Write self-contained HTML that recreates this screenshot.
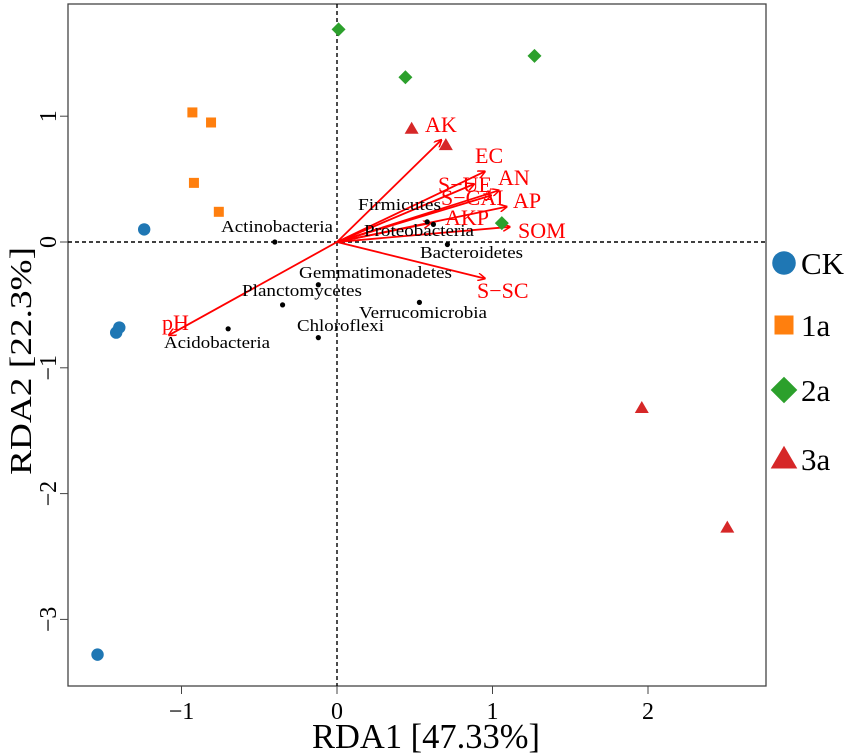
<!DOCTYPE html>
<html><head><meta charset="utf-8"><style>
body{margin:0;background:#fff}
svg{display:block;font-family:"Liberation Serif",serif}
</style></head><body>
<svg id="c" width="851" height="756" viewBox="0 0 851 756" xmlns="http://www.w3.org/2000/svg">
<defs><marker id="ah" markerWidth="8" markerHeight="8" refX="7" refY="4" orient="auto" markerUnits="userSpaceOnUse"><path d="M0,0 L8,4 L0,8" fill="none" stroke="#f00" stroke-width="1.5"/></marker></defs>
<g id="g"></g>
</svg>
<script>
const groups=['CK','1a','2a','3a'];
const colors=['#1f77b4','#ff7f0e','#2ca02c','#d62728'];
const ckX=[-1.24,-1.42,-1.40,-1.54], ckY=[0.10,-0.72,-0.68,-3.28];
const a1X=[-0.93,-0.81,-0.92,-0.76], a1Y=[1.03,0.95,0.47,0.24];
const a2X=[0.01,0.44,1.27,1.06], a2Y=[1.69,1.31,1.48,0.15];
const a3X=[0.48,0.70,1.96,2.51], a3Y=[0.90,0.77,-1.32,-2.27];
const envNames=['AK','EC','S-UE','AN','S-CAI','AP','AKP','SOM','S-SC','pH'];
const envX=[0.67,0.95,0.88,1.04,0.99,1.09,0.60,1.11,0.95,-1.08];
const envY=[0.81,0.56,0.46,0.41,0.37,0.28,0.15,0.12,-0.29,-0.74];
const sppNames=['Actinobacteria','Firmicutes','Proteobacteria','Bacteroidetes','Gemmatimonadetes','Planctomycetes','Chloroflexi','Verrucomicrobia','Acidobacteria'];
const sppX=[-0.40,0.58,0.62,0.71,-0.12,-0.35,-0.12,0.53,-0.70];
const sppY=[0.00,0.16,0.14,-0.02,-0.34,-0.50,-0.76,-0.48,-0.69];
const xTicks=[-1,0,1,2], yTicks=[1,0,-1,-2,-3];
const L=68,R=766,T=4,B=686;
const sx=v=>337+v*155.5, sy=v=>242-v*125.8;
const g=document.getElementById('g');
const NS='http://www.w3.org/2000/svg';
function mk(t,a,p){const e=document.createElementNS(NS,t);for(const k in a)e.setAttribute(k,a[k]);(p||g).appendChild(e);return e;}
let e;
e=mk('rect',{x:L,y:T,width:R-L,height:B-T,fill:'none',stroke:'#444','stroke-width':1.3});


e=mk('line',{x1:L,x2:R,y1:sy(0),y2:sy(0),stroke:'#000','stroke-dasharray':'4,3','stroke-width':1.4});


e=mk('line',{x1:sx(0),x2:sx(0),y1:T,y2:B,stroke:'#000','stroke-dasharray':'4,3','stroke-width':1.4});


xTicks.forEach(v=>{
 e=mk('line',{x1:sx(v),x2:sx(v),y1:B,y2:B+8,stroke:'#444'});
 
 
 e=mk('text',{x:sx(v),y:B+33,'text-anchor':'middle','font-size':24});
 e.textContent=v<0?'\u2212'+(-v):v;
 
 
});
yTicks.forEach(v=>{
 e=mk('line',{x1:L-8,x2:L,y1:sy(v),y2:sy(v),stroke:'#444'});
 
 
 e=mk('text',{x:L-12,y:sy(v),'text-anchor':'middle','font-size':24,transform:`rotate(-90 ${L-12} ${sy(v)})`});
 e.textContent=v<0?'\u2212'+(-v):v;
 
 
});
e=mk('text',{x:312,y:748,'font-size':35,textLength:228,lengthAdjust:'spacingAndGlyphs'});
e.textContent='RDA1  [47.33%]';


e=mk('text',{x:31,y:475,'font-size':31,textLength:228,lengthAdjust:'spacingAndGlyphs',transform:'rotate(-90 31 475)'});
e.textContent='RDA2  [22.3%]';


const envLab=[[425,132],[475,163],[438,192],[498,185],[441,205],[513,208],[445,225],[518,238],[477,298],[162,330]];
envNames.forEach((n,i)=>{
 e=mk('line',{x1:sx(0),y1:sy(0),x2:sx(envX[i]),y2:sy(envY[i]),stroke:'#f00','stroke-width':1.8,'marker-end':'url(#ah)'});
 
 
 e=mk('text',{x:envLab[i][0],y:envLab[i][1],fill:'#f00','font-size':22});
 e.textContent=n.replace('-','\u2212');
 
 
});
const sppLab=[[221,232],[358,210],[364,236],[420,258],[299,278],[242,296],[297,331],[359,318],[164,348]];
const sppW=[112,83,110,103,153,120,87,128,106];
sppNames.forEach((n,i)=>{
 e=mk('circle',{cx:sx(sppX[i]),cy:sy(sppY[i]),r:2.6,fill:'#000'});
 
 
 e=mk('text',{x:sppLab[i][0],y:sppLab[i][1],'font-size':17,textLength:sppW[i],lengthAdjust:'spacingAndGlyphs'});
 e.textContent=n;
 
 
});
function shape(k,x,y,s,c){
 if(k==0)return mk('circle',{cx:x,cy:y,r:s*0.62,fill:c});
 if(k==1)return mk('rect',{x:x-s/2,y:y-s/2,width:s,height:s,fill:c});
 if(k==2)return mk('polygon',{points:`${x},${y-s*0.7} ${x+s*0.7},${y} ${x},${y+s*0.7} ${x-s*0.7},${y}`,fill:c});
 return mk('polygon',{points:`${x},${y-s*0.7} ${x+s*0.7},${y+s*0.5} ${x-s*0.7},${y+s*0.5}`,fill:c});
}
const sets=[[ckX,ckY],[a1X,a1Y],[a2X,a2Y],[a3X,a3Y]];
sets.forEach((s,k)=>{s[0].forEach((v,i)=>{
 e=shape(k,sx(v),sy(s[1][i]),10,colors[k]);
 
 
});});
const legY=[263,325,390,459];
groups.forEach((n,k)=>{
 e=shape(k,784,legY[k],19,colors[k]);
 
 
 e=mk('text',{x:801,y:legY[k]+11,'font-size':31});
 e.textContent=n;
 
 
});
</script>
</body></html>
